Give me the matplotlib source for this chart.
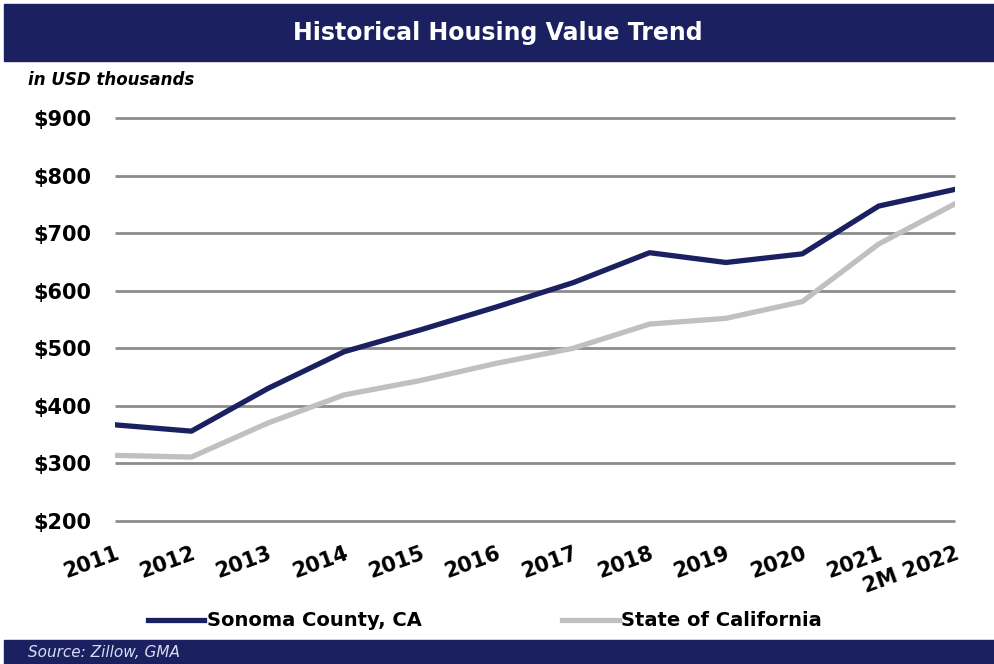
import matplotlib
matplotlib.use("Agg")
import matplotlib.pyplot as plt
from matplotlib.patches import Rectangle

years = ["2011", "2012", "2013", "2014", "2015", "2016", "2017",
         "2018", "2019", "2020", "2021", "2M 2022"]
sonoma = [367, 356, 430, 494, 532, 572, 614, 666, 649, 664, 747, 776]
california = [314, 311, 370, 419, 444, 474, 500, 542, 552, 581, 681, 751]
yticks = [200, 300, 400, 500, 600, 700, 800, 900]

NAVY = "#1b2160"
GREY = "#c0c0c0"
GRID = "#8c8c8c"

plt.rcParams["font.family"] = ["DejaVu Sans"]

fig = plt.figure(figsize=(9.95, 6.64), dpi=100)

# header and footer bands
fig.patches.append(Rectangle((0.004, 0.908), 0.996, 0.086, transform=fig.transFigure,
                             color=NAVY, zorder=0))
fig.patches.append(Rectangle((0.004, 0.0), 0.996, 0.036, transform=fig.transFigure,
                             color=NAVY, zorder=0))
fig.text(0.5, 0.951, "Historical Housing Value Trend", ha="center", va="center",
         color="white", fontsize=17, fontweight="bold")
fig.text(0.028, 0.018, "Source: Zillow, GMA", ha="left", va="center",
         color="#d8dcef", fontsize=11, style="italic")
fig.text(0.028, 0.880, "in USD thousands", ha="left", va="center",
         color="black", fontsize=12, style="italic", fontweight="bold")

ax = fig.add_axes([0.1156, 0.2154, 0.8442, 0.6069])
x = list(range(len(years)))
ln1, = ax.plot(x, sonoma, color=NAVY, lw=3.8, label="Sonoma County, CA", zorder=3,
               solid_joinstyle="round")
ln2, = ax.plot(x, california, color=GREY, lw=3.8, label="State of California", zorder=2,
               solid_joinstyle="round")

ax.set_xlim(0, len(years) - 1)
ax.set_ylim(200, 900)
ax.set_yticks(yticks)
ax.set_yticklabels([f"${v}" for v in yticks], fontsize=15, fontweight="bold")
ax.yaxis.grid(True, color=GRID, lw=2)
for gl in ax.get_ygridlines():
    gl.set_clip_on(False)
    gl.set_solid_capstyle("butt")
ax.set_axisbelow(True)
for s in ax.spines.values():
    s.set_visible(False)
ax.tick_params(axis="both", length=0)
ax.tick_params(axis="y", pad=17)

ax.set_xticks(x)
ax.set_xticklabels(years, rotation=20, ha="right", rotation_mode="anchor",
                   fontsize=15, fontweight="bold")
ax.tick_params(axis="x", pad=16)

fig.legend([ln1, ln2], ["Sonoma County, CA", "State of California"],
           loc="center left", bbox_to_anchor=(0.1487, 0.0648), ncol=2, frameon=False,
           prop={"size": 14, "weight": "bold"}, borderpad=0, borderaxespad=0,
           handlelength=2.9, handletextpad=0.15, columnspacing=7.2)

fig.savefig("out.png", dpi=100)
